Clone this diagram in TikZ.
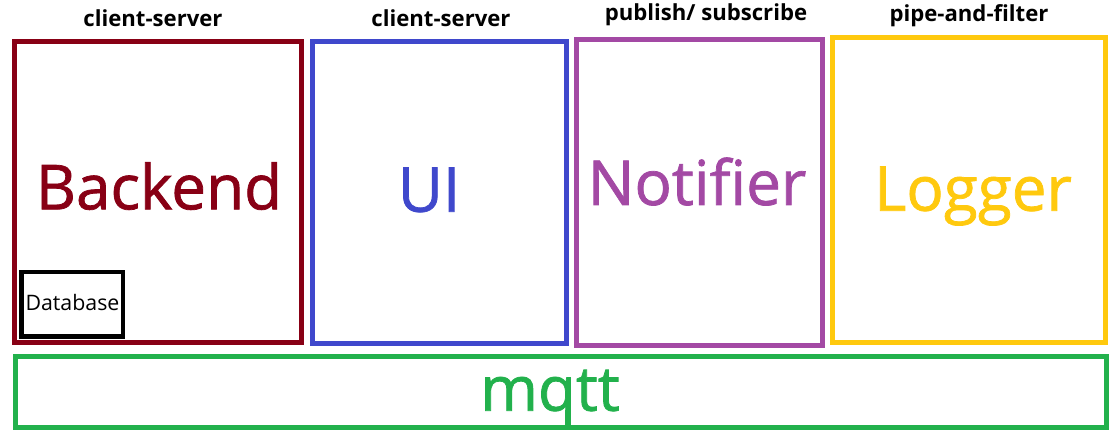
\documentclass[tikz,border=0pt]{standalone}
\usepackage{fontspec}
\setmainfont{Open Sans}
\newfontfamily\heavyfont{Open Sans}[FakeBold=1.2]
\definecolor{beRed}{RGB}{136,0,21}
\definecolor{uiBlue}{RGB}{63,72,204}
\definecolor{ntPurple}{RGB}{163,73,164}
\definecolor{lgGold}{RGB}{255,201,14}
\definecolor{mqGreen}{RGB}{34,177,76}
\begin{document}
\begin{tikzpicture}[
  x=0.75pt, y=-0.75pt,
  box/.style={draw, line width=3.75pt, inner sep=0pt},
  dbbox/.style={draw=black, line width=3.4pt, inner sep=0pt,
    minimum width=76.3pt, minimum height=48.4pt},
  big/.style={anchor=base, inner sep=0pt, font=\heavyfont\fontsize{46.5}{50}\selectfont},
  small/.style={anchor=base, inner sep=0pt, font=\fontsize{16}{18}\selectfont},
  tag/.style={anchor=base, inner sep=0pt, font=\fontsize{16.6}{19}\selectfont\bfseries}]
\useasboundingbox (0,0) rectangle (1118,438);
% components
\node[box, draw=beRed, minimum width=214.9pt, minimum height=225.4pt] (backend) at (157.75,191.75) {};
\node[box, draw=uiBlue, minimum width=189.9pt, minimum height=226.4pt] (ui) at (439.4,192.4) {};
\node[box, draw=ntPurple, minimum width=184.5pt, minimum height=229pt] (notifier) at (699.5,192.5) {};
\node[box, draw=lgGold, minimum width=204.75pt, minimum height=228.6pt] (logger) at (969,189.9) {};
\node[box, draw=mqGreen, minimum width=818.25pt, minimum height=52.9pt] (mqtt) at (561,391.75) {};
\node[dbbox] (db) at (72.35,304.25) {};
% names
\node[big, text=beRed] (backendtxt) at (159,209.3) {Backend};
\node[big, text=uiBlue] (uitxt) at (429,211.7) {UI};
\node[big, text=ntPurple] (notifiertxt) at (697,205) {Notifier};
\node[big, text=lgGold] (loggertxt) at (973,210.7) {Logger};
\node[big, text=mqGreen] (mqtttxt) at (550,410.7) {mqtt};
\node[small] (dbtxt) at (72.5,311) {Database};
% styles
\node[tag] (backendtag) at (153,27) {client-server};
\node[tag] (uitag) at (441,27) {client-server};
\node[tag] (notifiertag) at (706,21) {publish/ subscribe};
\node[tag] (loggertag) at (969,21.5) {pipe-and-filter};
\end{tikzpicture}
\end{document}
